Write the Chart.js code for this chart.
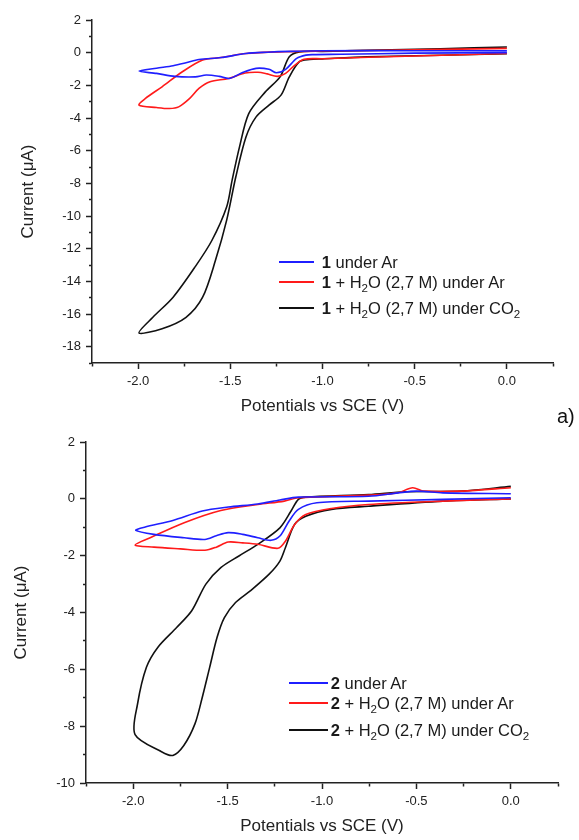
<!DOCTYPE html>
<html>
<head>
<meta charset="utf-8">
<script src="https://cdn.jsdelivr.net/npm/chart.js@4/dist/chart.umd.min.js"></script>
<style>
html,body{margin:0;padding:0;background:#fff;width:579px;height:840px;overflow:hidden;font-family:"Liberation Sans",Arial,sans-serif}
.wrap{position:absolute;left:0;width:579px;height:420px}
.leg{position:absolute;font-size:16.5px;color:#1a1a1a;white-space:nowrap;line-height:1}
.sw{position:absolute;height:2px}
sub{font-size:0.7em;vertical-align:-0.35em;line-height:0}
.lab{position:absolute;font-size:20px;color:#111;line-height:1}
</style>
</head>
<body>
<div class="wrap" style="top:0"><canvas id="c1" width="579" height="420"></canvas></div>
<div class="wrap" style="top:420px"><canvas id="c2" width="579" height="420"></canvas></div>

<!-- legend, panel 1 -->
<div class="sw" style="left:279px;width:35px;top:261px;background:#1f1fff"></div>
<div class="leg" style="left:321.7px;top:254px"><b>1</b> under Ar</div>
<div class="sw" style="left:279px;width:35px;top:281px;background:#ff1a1a"></div>
<div class="leg" style="left:321.7px;top:273.5px"><b>1</b> + H<sub>2</sub>O (2,7 M) under Ar</div>
<div class="sw" style="left:279px;width:35px;top:307px;background:#111"></div>
<div class="leg" style="left:321.7px;top:300px"><b>1</b> + H<sub>2</sub>O (2,7 M) under CO<sub>2</sub></div>

<!-- legend, panel 2 -->
<div class="sw" style="left:289px;width:39px;top:682px;background:#1f1fff"></div>
<div class="leg" style="left:330.7px;top:674.5px"><b>2</b> under Ar</div>
<div class="sw" style="left:289px;width:39px;top:702px;background:#ff1a1a"></div>
<div class="leg" style="left:330.7px;top:694.5px"><b>2</b> + H<sub>2</sub>O (2,7 M) under Ar</div>
<div class="sw" style="left:289px;width:39px;top:729px;background:#111"></div>
<div class="leg" style="left:330.7px;top:722px"><b>2</b> + H<sub>2</sub>O (2,7 M) under CO<sub>2</sub></div>

<div class="lab" style="left:557px;top:406px">a)</div>

<script>
// ---------- tick values / labels ----------
const xMajorTicks = [-2.0, -1.5, -1.0, -0.5, 0.0];
const xTickLabels = ['-2.0', '-1.5', '-1.0', '-0.5', '0.0'];
const y1MajorTicks = [2, 0, -2, -4, -6, -8, -10, -12, -14, -16, -18];
const y2MajorTicks = [2, 0, -2, -4, -6, -8, -10];

// ---------- panel 1 (compound 1) ----------
const p1BlueV = [0.0, -0.5, -0.9, -1.05, -1.09, -1.14, -1.2, -1.25, -1.29, -1.36, -1.43, -1.505, -1.56, -1.63, -1.69, -1.8, -1.9, -1.995,
                 -1.9, -1.81, -1.74, -1.67, -1.55, -1.415, -1.3, -1.18, -1.0, -0.5, 0.0];
const p1BlueI = [0.0, -0.03, -0.1, -0.12, -0.15, -0.35, -1.02, -1.23, -1.02, -0.96, -1.2, -1.58, -1.45, -1.37, -1.48, -1.45, -1.27, -1.13,
                 -0.95, -0.8, -0.62, -0.42, -0.3, -0.05, 0.03, 0.08, 0.12, 0.12, 0.12];

const p1RedV = [0.0, -0.5, -1.0, -1.1, -1.15, -1.2, -1.245, -1.3, -1.35, -1.42, -1.51, -1.61, -1.67, -1.72, -1.78, -1.83, -1.9, -1.995,
                -1.96, -1.87, -1.76, -1.65, -1.55, -1.415, -1.2, -1.0, -0.5, 0.0];
const p1RedI = [-0.05, -0.2, -0.37, -0.4, -0.76, -1.27, -1.45, -1.3, -1.2, -1.25, -1.58, -1.78, -2.19, -2.8, -3.32, -3.42, -3.36, -3.21,
                -2.8, -2.09, -1.17, -0.45, -0.3, -0.05, 0.06, 0.1, 0.17, 0.26];

const p1BlackV = [0.0, -0.36, -0.76, -1.0, -1.07, -1.125, -1.18, -1.225, -1.29, -1.36, -1.415, -1.47, -1.52, -1.58, -1.65, -1.74, -1.87, -1.995,
                  -1.92, -1.81, -1.69, -1.6, -1.52, -1.49, -1.45, -1.4, -1.31, -1.23, -1.18, -1.125, -1.0, -0.76, -0.36, 0.0];
const p1BlackI = [-0.06, -0.16, -0.26, -0.38, -0.42, -0.55, -1.48, -2.6, -3.21, -3.93, -5.16, -7.6, -10.27, -12.7, -14.97, -16.2, -16.9, -17.16,
                  -16.2, -14.97, -13.1, -11.5, -9.45, -7.8, -5.77, -3.73, -2.4, -1.48, -0.25, 0.05, 0.08, 0.14, 0.24, 0.35];

// ---------- panel 2 (compound 2) ----------
const p2BlueV = [0.0, -0.36, -0.753, -1.027, -1.125, -1.174, -1.223, -1.27, -1.34, -1.42, -1.497, -1.56, -1.62, -1.73, -1.89, -1.986,
                 -1.94, -1.79, -1.634, -1.497, -1.34, -1.223, -1.125, -0.753, -0.597, -0.5, -0.36, 0.0];
const p2BlueI = [0.04, -0.02, -0.08, -0.14, -0.37, -0.78, -1.31, -1.46, -1.37, -1.25, -1.19, -1.3, -1.43, -1.37, -1.25, -1.11,
                 -1.0, -0.76, -0.43, -0.29, -0.18, -0.04, 0.06, 0.09, 0.21, 0.27, 0.21, 0.18];

const p2RedV = [0.0, -0.36, -0.753, -0.95, -1.086, -1.145, -1.194, -1.233, -1.34, -1.42, -1.497, -1.56, -1.62, -1.75, -1.89, -1.99,
                -1.91, -1.73, -1.536, -1.34, -1.2, -1.125, -0.75, -0.6, -0.52, -0.46, -0.26, 0.0];
const p2RedI = [0.0, -0.08, -0.2, -0.34, -0.55, -0.9, -1.49, -1.74, -1.6, -1.55, -1.52, -1.7, -1.81, -1.76, -1.7, -1.63,
                -1.37, -0.84, -0.41, -0.2, -0.08, 0.04, 0.13, 0.21, 0.39, 0.27, 0.27, 0.39];

const p2BlackV = [0.0, -0.36, -0.753, -0.95, -1.086, -1.145, -1.194, -1.223, -1.28, -1.38, -1.458, -1.517, -1.556, -1.595, -1.634, -1.673, -1.732, -1.79, -1.85, -1.99,
                  -1.977, -1.93, -1.87, -1.77, -1.69, -1.615, -1.536, -1.44, -1.34, -1.223, -1.164, -1.125, -1.086, -0.753, -0.56, -0.26, 0.0];
const p2BlackI = [0.0, -0.08, -0.26, -0.37, -0.61, -0.9, -1.72, -2.19, -2.65, -3.24, -3.65, -4.18, -4.88, -5.93, -6.98, -7.92, -8.68, -9.03, -8.9, -8.3,
                  -7.22, -5.93, -5.23, -4.53, -3.94, -3.0, -2.42, -2.01, -1.6, -1.02, -0.43, -0.02, 0.06, 0.15, 0.25, 0.27, 0.44];

const seriesColors = ['#1f1fff', '#ff1a1a', '#111111'];

function pts(vs, is) { return vs.map((v, k) => ({x: v, y: is[k]})); }
function ds(vs, is, color) {
  return {data: pts(vs, is), borderColor: color, backgroundColor: color, borderWidth: 1.6,
          showLine: true, pointRadius: 0, tension: 0.3, fill: false};
}
const near = (v, arr) => arr.some(a => Math.abs(a - v) < 1e-6);

function makeChart(id, sets, yMin, yMax, yMajor, pad, yWidth, yTitlePad) {
  new Chart(document.getElementById(id), {
    type: 'scatter',
    data: {datasets: sets},
    options: {
      responsive: false, animation: false,
      layout: {padding: pad},
      plugins: {legend: {display: false}, tooltip: {enabled: false}},
      scales: {
        x: {
          type: 'linear', min: -2.25, max: 0.25,
          ticks: {stepSize: 0.25, autoSkip: false, maxRotation: 0, padding: 5, color: '#222',
                  font: {size: 13, family: '"Liberation Sans", Arial, sans-serif'},
                  callback: (v) => { const k = xMajorTicks.findIndex(a => Math.abs(a - v) < 1e-6); return k >= 0 ? xTickLabels[k] : ''; }},
          grid: {drawOnChartArea: false, drawTicks: true, tickLength: 6, tickColor: '#222', tickWidth: 1.5,
                 tickBorderDash: (c) => (c.tick && near(c.tick.value, xMajorTicks)) ? [] : [3, 100]},
          border: {display: true, color: '#222', width: 1.5},
          title: {display: true, text: 'Potentials vs SCE (V)', color: '#222',
                  font: {size: 17, family: '"Liberation Sans", Arial, sans-serif'}, padding: {top: 0, bottom: 3}},
          afterFit: (s) => { s.height = 57; }
        },
        y: {
          type: 'linear', min: yMin, max: yMax,
          ticks: {stepSize: 1, autoSkip: false, padding: 5, color: '#222',
                  font: {size: 13, family: '"Liberation Sans", Arial, sans-serif'},
                  callback: (v) => near(v, yMajor) ? String(v) : ''},
          grid: {drawOnChartArea: false, drawTicks: true, tickLength: 6, tickColor: '#222', tickWidth: 1.5,
                 tickBorderDash: (c) => (c.tick && near(c.tick.value, yMajor)) ? [] : [0, 3, 3, 100]},
          border: {display: true, color: '#222', width: 1.5},
          title: {display: true, text: 'Current (μA)', color: '#222',
                  font: {size: 17, family: '"Liberation Sans", Arial, sans-serif'}, padding: {top: yTitlePad, bottom: 0}},
          afterFit: (s) => { s.width = yWidth; }
        }
      }
    }
  });
}

makeChart('c1', [
  ds(p1BlueV, p1BlueI, seriesColors[0]),
  ds(p1RedV, p1RedI, seriesColors[1]),
  ds(p1BlackV, p1BlackI, seriesColors[2])
], -19, 2, y1MajorTicks, {left: 0, right: 26, top: 20, bottom: 0}, 92, 18);

makeChart('c2', [
  ds(p2BlueV, p2BlueI, seriesColors[0]),
  ds(p2RedV, p2RedI, seriesColors[1]),
  ds(p2BlackV, p2BlackI, seriesColors[2])
], -10, 2, y2MajorTicks, {left: 0, right: 21, top: 22, bottom: 0}, 86, 11);
</script>
</body>
</html>
